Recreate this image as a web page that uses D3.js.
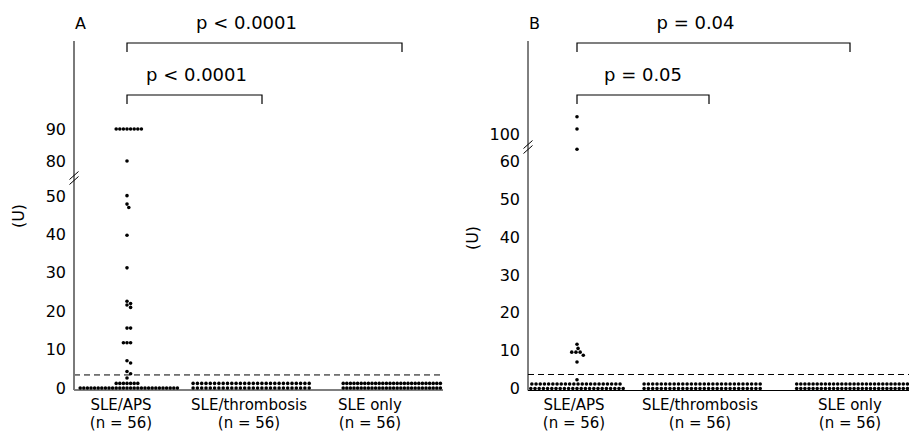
<!DOCTYPE html>
<html>
<head>
<meta charset="utf-8">
<script src="https://cdn.jsdelivr.net/npm/d3@7/dist/d3.min.js"></script>
<style>
  body { margin: 0; background: #fff; }
  svg { display: block; }
  text { font-family: "DejaVu Sans", sans-serif; fill: #000; }
</style>
</head>
<body>
<div id="chart"></div>
<script>
// antibody levels (U) per patient group, two panels

const groups = ["SLE/APS", "SLE/thrombosis", "SLE only"];
const groupN = ["(n = 56)", "(n = 56)", "(n = 56)"];

const rep = (v, n) => Array(n).fill(v);

// panel A values
const aAps = [
  ...rep(90, 8), 80, 50.1, 47.9, 47.0, 39.8, 31.3,
  22.6, 22.0, 21.6, 21.0, 15.6, 15.6, 11.8, 11.8, 11.8,
  7.1, 6.5, 4.3, 3.7, 2.6,
  ...rep(1.2, 7), ...rep(0, 28)
];
const aThrombosis = [...rep(1.2, 28), ...rep(0, 28)];
const aSleOnly = [...rep(1.2, 28), ...rep(0, 28)];

// panel B values
const bAps = [
  104.7, 101.5, 63.2, 11.7, 10.6, 9.6, 9.6, 9.6, 8.8, 7.0, 2.3,
  ...rep(1.2, 22), ...rep(0, 23)
];
const bThrombosis = [...rep(1.2, 28), ...rep(0, 28)];
const bSleOnly = [...rep(1.2, 28), ...rep(0, 28)];

const ticksALow = [0, 10, 20, 30, 40, 50];
const ticksAHigh = [80, 90];
const ticksBLow = [0, 10, 20, 30, 40, 50, 60];
const ticksBHigh = [100];

const pA = ["p < 0.0001", "p < 0.0001"]; // long bracket, short bracket
const pB = ["p = 0.04", "p = 0.05"];

const cutoffA = 3.4;
const cutoffB = 3.7;

// layout per panel
const panels = [
  {
    letter: "A", series: [aAps, aThrombosis, aSleOnly], low: ticksALow, high: ticksAHigh,
    pvals: pA, cutoff: cutoffA,
    axisX: 74, axisTop: 41, right: 443, y0: 388, breakY: 178,
    lowMax: 54.7, highMin: 74.7, highMax: 117.5,
    pointRange: [127, 390], dotNudge: [0, -9.5, 0], labelNudge: [-6, -9.5, -20],
    spacing: [3.6, 4.3, 3.6],
    longEnd: 12, shortEnd: 3.5, longText: -18, shortText: 2,
    axisColor: "#7a7a7a", axisWidth: 2, baseColor: "#555", baseWidth: 1.4,
    uPos: [18, 216]
  },
  {
    letter: "B", series: [bAps, bThrombosis, bSleOnly], low: ticksBLow, high: ticksBHigh,
    pvals: pB, cutoff: cutoffB,
    axisX: 528, axisTop: 41, right: 909, y0: 388.5, breakY: 147,
    lowMax: 63.8, highMin: 96.8, highMax: 124.5,
    pointRange: [577, 850], dotNudge: [0, -13.5, 0], labelNudge: [-3, -13.5, 0],
    spacing: [4.2, 4.3, 4.1],
    longEnd: 0, shortEnd: -4.5, longText: -18, shortText: 0,
    axisColor: "#000", axisWidth: 1, baseColor: "#000", baseWidth: 1,
    uPos: [472, 238]
  }
];

const W = 909, H = 434;
const svg = d3.select("#chart").append("svg")
  .attr("width", W).attr("height", H);

// simple beeswarm: place each dot as close to the centre as it can
function swarm(values, yFn, cx, gap) {
  const placed = [];
  const step = gap / 4;
  values.slice().sort((a, b) => b - a).forEach(v => {
    const y = yFn(v);
    for (let k = 0; k < 2000; k++) {
      const off = k === 0 ? 0 : (k % 2 ? 1 : -1) * Math.ceil(k / 2) * step;
      const x = cx + off;
      const hit = placed.some(p => (p.x - x) ** 2 + (p.y - y) ** 2 < gap * gap - 0.01);
      if (!hit) { placed.push({ x, y, v }); break; }
    }
  });
  return placed;
}

panels.forEach(P => {
  const g = svg.append("g");

  const yLow = d3.scaleLinear().domain([0, P.lowMax]).range([P.y0, P.breakY]);
  const yHigh = d3.scaleLinear().domain([P.highMin, P.highMax]).range([P.breakY, P.axisTop]);
  const y = v => v <= P.lowMax ? yLow(v) : yHigh(v);

  const x = d3.scalePoint().domain(groups).range(P.pointRange);

  // dashed cutoff
  g.append("line")
    .attr("x1", P.axisX).attr("x2", P.right)
    .attr("y1", y(P.cutoff)).attr("y2", y(P.cutoff))
    .attr("stroke", "#000").attr("stroke-width", 1)
    .attr("stroke-dasharray", "6,4");

  // baseline
  g.append("line")
    .attr("x1", P.axisX).attr("x2", P.right)
    .attr("y1", P.y0 + 2).attr("y2", P.y0 + 2)
    .attr("stroke", P.baseColor).attr("stroke-width", P.baseWidth);

  // y axis line
  g.append("line")
    .attr("x1", P.axisX).attr("x2", P.axisX)
    .attr("y1", P.axisTop).attr("y2", P.y0 + 2)
    .attr("stroke", P.axisColor).attr("stroke-width", P.axisWidth);

  // tick labels, no tick marks
  const tickAxis = (scale, vals) => g.append("g")
    .attr("transform", `translate(${P.axisX},0)`)
    .call(d3.axisLeft(scale).tickValues(vals).tickSize(0).tickPadding(8))
    .call(a => a.select(".domain").remove())
    .selectAll("text")
    .attr("font-size", "16px")
    .attr("font-family", "DejaVu Sans, sans-serif")
    .attr("fill", "#000");
  tickAxis(yLow, P.low);
  tickAxis(yHigh, P.high);

  // axis break marks
  [-2.5, 2.5].forEach(d => {
    g.append("line")
      .attr("x1", P.axisX - 4.5).attr("y1", P.breakY + 4 + d)
      .attr("x2", P.axisX + 4.5).attr("y2", P.breakY - 4 + d)
      .attr("stroke", "#000").attr("stroke-width", 1);
  });

  // dots
  P.series.forEach((vals, i) => {
    const cx = x(groups[i]) + P.dotNudge[i];
    const pts = swarm(vals, y, cx, P.spacing[i]);
    g.selectAll(null)
      .data(pts)
      .enter()
      .append("circle")
      .attr("cx", d => d.x)
      .attr("cy", d => d.y)
      .attr("r", 1.8)
      .attr("fill", "#000");
  });

  // category labels
  groups.forEach((name, i) => {
    const lx = x(name) + P.labelNudge[i];
    g.append("text").attr("x", lx).attr("y", 410)
      .attr("text-anchor", "middle").attr("font-size", "15px").text(name);
    g.append("text").attr("x", lx).attr("y", 428)
      .attr("text-anchor", "middle").attr("font-size", "15px").text(groupN[i]);
  });

  // y label
  g.append("text")
    .attr("transform", `translate(${P.uPos[0]},${P.uPos[1]}) rotate(-90)`)
    .attr("text-anchor", "middle").attr("dy", "0.35em")
    .attr("font-size", "16px").text("(U)");

  // panel letter
  g.append("text").attr("x", P.axisX + 1).attr("y", 29)
    .attr("font-size", "16px").text(P.letter);

  // significance brackets
  const x0 = x(groups[0]);
  const brackets = [
    { x2: x(groups[2]) + P.longEnd, by: 43, ty: 29, text: P.pvals[0], tn: P.longText },
    { x2: x(groups[1]) + P.shortEnd, by: 95, ty: 81, text: P.pvals[1], tn: P.shortText }
  ];
  brackets.forEach(b => {
    g.append("path")
      .attr("d", `M${x0},${b.by + 9}V${b.by}H${b.x2}V${b.by + 9}`)
      .attr("fill", "none").attr("stroke", "#000").attr("stroke-width", 1.2);
    g.append("text")
      .attr("x", (x0 + b.x2) / 2 + b.tn).attr("y", b.ty)
      .attr("text-anchor", "middle").attr("font-size", "18px")
      .text(b.text);
  });
});
</script>
</body>
</html>
